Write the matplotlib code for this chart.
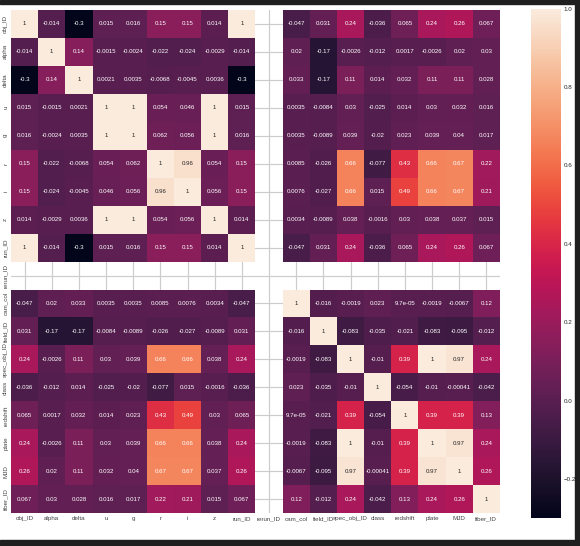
import matplotlib
matplotlib.use("Agg")
import matplotlib.pyplot as plt
from matplotlib.patches import Rectangle
import numpy as np
import pandas as pd
import seaborn as sns

labels = ["obj_ID", "alpha", "delta", "u", "g", "r", "i", "z", "run_ID", "rerun_ID",
          "cam_col", "field_ID", "spec_obj_ID", "class", "redshift", "plate", "MJD", "fiber_ID"]

nan = np.nan
obj_ID = [1, -0.014, -0.3, 0.015, 0.016, 0.15, 0.15, 0.014, 1, nan,
          -0.047, 0.031, 0.24, -0.036, 0.065, 0.24, 0.26, 0.067]
alpha = [-0.014, 1, 0.14, -0.0015, -0.0024, -0.022, -0.024, -0.0029, -0.014, nan,
         0.02, -0.17, -0.0026, -0.012, 0.0017, -0.0026, 0.02, 0.03]
delta = [-0.3, 0.14, 1, 0.0021, 0.0035, -0.0068, -0.0045, 0.0036, -0.3, nan,
         0.033, -0.17, 0.11, 0.014, 0.032, 0.11, 0.11, 0.028]
u = [0.015, -0.0015, 0.0021, 1, 1, 0.054, 0.046, 1, 0.015, nan,
     0.0035, -0.0084, 0.03, -0.025, 0.014, 0.03, 0.032, 0.016]
g = [0.016, -0.0024, 0.0035, 1, 1, 0.062, 0.056, 1, 0.016, nan,
     0.0035, -0.0089, 0.039, -0.02, 0.023, 0.039, 0.04, 0.017]
r = [0.15, -0.022, -0.0068, 0.054, 0.062, 1, 0.96, 0.054, 0.15, nan,
     0.0085, -0.026, 0.66, -0.077, 0.43, 0.66, 0.67, 0.22]
i = [0.15, -0.024, -0.0045, 0.046, 0.056, 0.96, 1, 0.056, 0.15, nan,
     0.0076, -0.027, 0.66, 0.015, 0.49, 0.66, 0.67, 0.21]
z = [0.014, -0.0029, 0.0036, 1, 1, 0.054, 0.056, 1, 0.014, nan,
     0.0034, -0.0089, 0.038, -0.0016, 0.03, 0.038, 0.037, 0.015]
run_ID = [1, -0.014, -0.3, 0.015, 0.016, 0.15, 0.15, 0.014, 1, nan,
          -0.047, 0.031, 0.24, -0.036, 0.065, 0.24, 0.26, 0.067]
rerun_ID = [nan] * 18
cam_col = [-0.047, 0.02, 0.033, 0.0035, 0.0035, 0.0085, 0.0076, 0.0034, -0.047, nan,
           1, -0.016, -0.0019, 0.023, 9.7e-05, -0.0019, -0.0067, 0.12]
field_ID = [0.031, -0.17, -0.17, -0.0084, -0.0089, -0.026, -0.027, -0.0089, 0.031, nan,
            -0.016, 1, -0.083, -0.035, -0.021, -0.083, -0.095, -0.012]
spec_obj_ID = [0.24, -0.0026, 0.11, 0.03, 0.039, 0.66, 0.66, 0.038, 0.24, nan,
               -0.0019, -0.083, 1, -0.01, 0.39, 1, 0.97, 0.24]
class_ = [-0.036, -0.012, 0.014, -0.025, -0.02, -0.077, 0.015, -0.0016, -0.036, nan,
          0.023, -0.035, -0.01, 1, -0.054, -0.01, -0.00041, -0.042]
redshift = [0.065, 0.0017, 0.032, 0.014, 0.023, 0.43, 0.49, 0.03, 0.065, nan,
            9.7e-05, -0.021, 0.39, -0.054, 1, 0.39, 0.39, 0.13]
plate = [0.24, -0.0026, 0.11, 0.03, 0.039, 0.66, 0.66, 0.038, 0.24, nan,
         -0.0019, -0.083, 1, -0.01, 0.39, 1, 0.97, 0.24]
MJD = [0.26, 0.02, 0.11, 0.032, 0.04, 0.67, 0.67, 0.037, 0.26, nan,
       -0.0067, -0.095, 0.97, -0.00041, 0.39, 0.97, 1, 0.26]
fiber_ID = [0.067, 0.03, 0.028, 0.016, 0.017, 0.22, 0.21, 0.015, 0.067, nan,
            0.12, -0.012, 0.24, -0.042, 0.13, 0.24, 0.26, 1]

rows = [obj_ID, alpha, delta, u, g, r, i, z, run_ID, rerun_ID, cam_col, field_ID,
        spec_obj_ID, class_, redshift, plate, MJD, fiber_ID]
corr = pd.DataFrame(rows, index=labels, columns=labels)

sns.set_style("whitegrid")
plt.rcParams["font.family"] = ["Liberation Sans", "DejaVu Sans"]

fig = plt.figure(figsize=(5.8, 5.46), dpi=100)
ax = fig.add_axes([0.019, 0.060, 0.843, 0.922])
cax = fig.add_axes([0.9155, 0.051, 0.052, 0.933])

sns.heatmap(corr, annot=True, ax=ax, cbar_ax=cax, annot_kws={"size": 4.4})

# grid lines at cell centres, visible through the empty rerun_ID row/column
for p in ax.get_xticks():
    ax.axvline(p, color="#dddddd", linewidth=0.8, zorder=0)
for p in ax.get_yticks():
    ax.axhline(p, color="#dddddd", linewidth=0.8, zorder=0)

ax.set_xticklabels(labels, rotation=0, fontsize=4.5, color="#444444")
ax.set_yticklabels(labels, rotation=90, fontsize=4.5, color="#444444", va="center")
ax.tick_params(axis="both", length=0, pad=2)
cax.tick_params(labelsize=4.5, length=0, pad=2)

# dark screenshot frame
dark = "#1f1f1f"
fig.add_artist(Rectangle((0, 1 - 4 / 546), 1, 4 / 546, transform=fig.transFigure,
                         color=dark, zorder=10))
fig.add_artist(Rectangle((0, 0), 1, 6 / 546, transform=fig.transFigure,
                         color=dark, zorder=10))
fig.add_artist(Rectangle((1 - 5 / 580, 0), 5 / 580, 1, transform=fig.transFigure,
                         color=dark, zorder=10))

fig.savefig("out.png", dpi=100)
plt.close(fig)
